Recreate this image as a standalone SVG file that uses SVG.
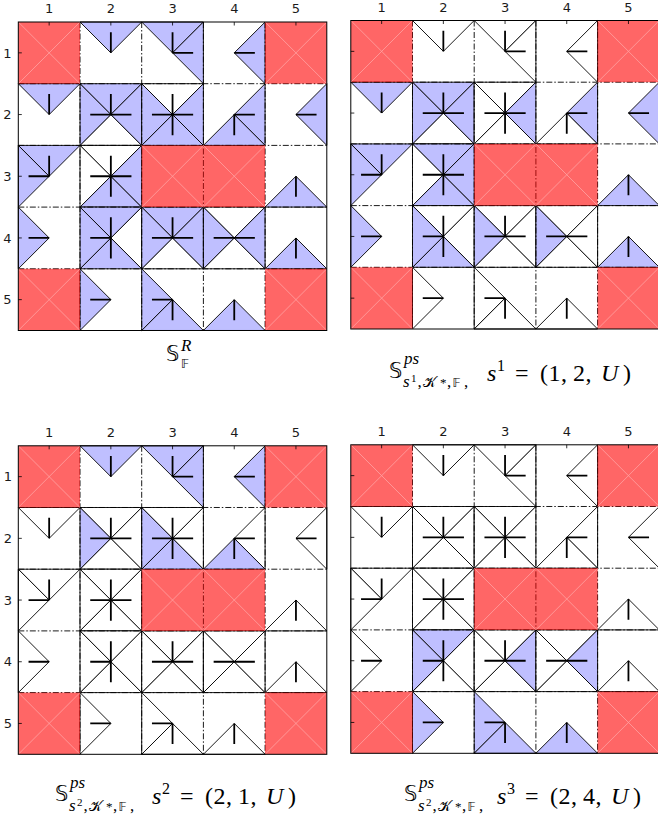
<svg xmlns="http://www.w3.org/2000/svg" xmlns:xlink="http://www.w3.org/1999/xlink" width="658" height="818" viewBox="0 0 658 818">
<style>
.b{fill:#bfbfff;stroke:#000;stroke-width:0.9;stroke-linejoin:miter}
.w{fill:#fff;stroke:#000;stroke-width:0.9}
.a{fill:none;stroke:#000;stroke-width:1.8}
.g{fill:none;stroke:#000;stroke-width:0.9;stroke-dasharray:6 2 1.5 2}
.fr{fill:none;stroke:#000;stroke-width:1}
.tk{fill:none;stroke:#000;stroke-width:0.8}
.lb{font-family:"DejaVu Sans",sans-serif;font-size:13px;fill:#1a1a1a;text-anchor:middle}
.m{font-family:"Liberation Serif",serif;font-size:24px;fill:#000}
.bb{font-family:"DejaVu Sans","DejaVu Serif",sans-serif;fill:#000}
.sc{font-family:"Liberation Serif",serif;font-size:17px;fill:#000}
.it{font-style:italic}
</style>
<defs>
<path id="U" d="M0,0H61.7L30.85,30.85Z"/>
<path id="D" d="M0,61.7H61.7L30.85,30.85Z"/>
<path id="L" d="M0,0V61.7L30.85,30.85Z"/>
<path id="R" d="M61.7,0V61.7L30.85,30.85Z"/>
<g id="red"><rect width="61.7" height="61.7" fill="#ff0000" fill-opacity="0.6"/><path d="M0,0L61.7,61.7M61.7,0L0,61.7" stroke="#ffa3a3" stroke-width="0.8"/></g>
<path id="grid" class="g" d="M61.7,0V308.5M123.4,0V308.5M185.1,0V308.5M246.8,0V308.5M0,61.7H308.5M0,123.4H308.5M0,185.1H308.5M0,246.8H308.5"/>
<g id="reds">
<use href="#red" x="0" y="0"/><use href="#red" x="246.8" y="0"/>
<use href="#red" x="123.4" y="123.4"/><use href="#red" x="185.1" y="123.4"/>
<use href="#red" x="0" y="246.8"/><use href="#red" x="246.8" y="246.8"/>
</g>
<path id="arrows" class="a" d="M92.55,30.85V10.25 M154.25,30.85V10.25M154.25,30.85H174.85 M215.95,30.85H236.55
M30.85,92.55V71.95 M71.95,92.55H113.15M92.55,92.55V71.95 M133.65,92.55H174.85M154.25,71.95V113.15 M215.95,92.55H236.55M215.95,92.55V113.15 M277.65,92.55H298.25
M30.85,154.25V133.65M30.85,154.25H10.25 M71.95,154.25H113.15M92.55,133.65V174.85 M277.65,154.25V174.85
M30.85,215.95H10.25 M92.55,215.95H71.95M92.55,195.35V236.55 M133.65,215.95H174.85M154.25,215.95V195.35 M195.35,215.95H236.55 M277.65,215.95V236.55
M92.55,277.65H71.95 M154.25,277.65H133.65M154.25,277.65V298.25 M215.95,277.65V298.25"/>
<g id="axes">
<rect class="fr" x="0" y="0" width="308.5" height="308.5"/>
<path class="tk" d="M30.85,0V3.5M92.55,0V3.5M154.25,0V3.5M215.95,0V3.5M277.65,0V3.5M0,30.85H3.5M0,92.55H3.5M0,154.25H3.5M0,215.95H3.5M0,277.65H3.5"/>
</g>
</defs>

<g id="panel1" transform="translate(18.3,22)">
<rect width="308.5" height="308.5" fill="#fff"/>
<g id="tri1">
<use href="#U" x="61.7" y="0" class="b"/>
<use href="#U" x="123.4" y="0" class="b"/><use href="#R" x="123.4" y="0" class="b"/>
<use href="#R" x="185.1" y="0" class="b"/>
<use href="#U" x="0" y="61.7" class="b"/>
<use href="#D" x="61.7" y="61.7" class="w"/><use href="#U" x="61.7" y="61.7" class="b"/><use href="#L" x="61.7" y="61.7" class="b"/><use href="#R" x="61.7" y="61.7" class="b"/>
<use href="#U" x="123.4" y="61.7" class="w"/><use href="#D" x="123.4" y="61.7" class="b"/><use href="#L" x="123.4" y="61.7" class="b"/><use href="#R" x="123.4" y="61.7" class="b"/>
<use href="#R" x="185.1" y="61.7" class="b"/><use href="#D" x="185.1" y="61.7" class="b"/>
<use href="#R" x="246.8" y="61.7" class="b"/>
<use href="#U" x="0" y="123.4" class="b"/><use href="#L" x="0" y="123.4" class="b"/>
<use href="#U" x="61.7" y="123.4" class="w"/><use href="#L" x="61.7" y="123.4" class="w"/><use href="#D" x="61.7" y="123.4" class="b"/><use href="#R" x="61.7" y="123.4" class="b"/>
<use href="#D" x="246.8" y="123.4" class="b"/>
<use href="#L" x="0" y="185.1" class="b"/>
<use href="#R" x="61.7" y="185.1" class="w"/><use href="#U" x="61.7" y="185.1" class="b"/><use href="#D" x="61.7" y="185.1" class="b"/><use href="#L" x="61.7" y="185.1" class="b"/>
<use href="#D" x="123.4" y="185.1" class="w"/><use href="#U" x="123.4" y="185.1" class="b"/><use href="#L" x="123.4" y="185.1" class="b"/><use href="#R" x="123.4" y="185.1" class="b"/>
<use href="#U" x="185.1" y="185.1" class="w"/><use href="#D" x="185.1" y="185.1" class="w"/><use href="#L" x="185.1" y="185.1" class="b"/><use href="#R" x="185.1" y="185.1" class="b"/>
<use href="#D" x="246.8" y="185.1" class="b"/>
<use href="#L" x="61.7" y="246.8" class="b"/>
<use href="#L" x="123.4" y="246.8" class="b"/><use href="#D" x="123.4" y="246.8" class="b"/>
<use href="#D" x="185.1" y="246.8" class="b"/>
</g>
<use href="#grid"/><use href="#reds"/><use href="#arrows"/><use href="#axes"/>
</g>

<g id="panel2" transform="translate(350.8,20.5)">
<rect width="308.5" height="308.5" fill="#fff"/>
<g id="tri2">
<use href="#U" x="61.7" y="0" class="w"/>
<use href="#U" x="123.4" y="0" class="w"/><use href="#R" x="123.4" y="0" class="w"/>
<use href="#R" x="185.1" y="0" class="w"/>
<use href="#U" x="0" y="61.7" class="b"/>
<use href="#D" x="61.7" y="61.7" class="w"/><use href="#U" x="61.7" y="61.7" class="b"/><use href="#L" x="61.7" y="61.7" class="b"/><use href="#R" x="61.7" y="61.7" class="b"/>
<use href="#U" x="123.4" y="61.7" class="w"/><use href="#D" x="123.4" y="61.7" class="w"/><use href="#L" x="123.4" y="61.7" class="w"/><use href="#R" x="123.4" y="61.7" class="b"/>
<use href="#D" x="185.1" y="61.7" class="w"/><use href="#R" x="185.1" y="61.7" class="b"/>
<use href="#R" x="246.8" y="61.7" class="b"/>
<use href="#U" x="0" y="123.4" class="b"/><use href="#L" x="0" y="123.4" class="b"/>
<use href="#L" x="61.7" y="123.4" class="w"/><use href="#U" x="61.7" y="123.4" class="b"/><use href="#D" x="61.7" y="123.4" class="b"/><use href="#R" x="61.7" y="123.4" class="b"/>
<use href="#D" x="246.8" y="123.4" class="b"/>
<use href="#L" x="0" y="185.1" class="b"/>
<use href="#U" x="61.7" y="185.1" class="w"/><use href="#R" x="61.7" y="185.1" class="w"/><use href="#D" x="61.7" y="185.1" class="b"/><use href="#L" x="61.7" y="185.1" class="b"/>
<use href="#U" x="123.4" y="185.1" class="w"/><use href="#D" x="123.4" y="185.1" class="w"/><use href="#R" x="123.4" y="185.1" class="w"/><use href="#L" x="123.4" y="185.1" class="b"/>
<use href="#U" x="185.1" y="185.1" class="w"/><use href="#D" x="185.1" y="185.1" class="w"/><use href="#R" x="185.1" y="185.1" class="w"/><use href="#L" x="185.1" y="185.1" class="b"/>
<use href="#D" x="246.8" y="185.1" class="b"/>
<use href="#L" x="61.7" y="246.8" class="w"/>
<use href="#L" x="123.4" y="246.8" class="w"/><use href="#D" x="123.4" y="246.8" class="w"/>
<use href="#D" x="185.1" y="246.8" class="w"/>
</g>
<use href="#grid"/><use href="#reds"/><use href="#arrows"/><use href="#axes"/>
</g>

<g id="panel3" transform="translate(18.3,445.8)">
<rect width="308.5" height="308.5" fill="#fff"/>
<g id="tri3">
<use href="#U" x="61.7" y="0" class="b"/>
<use href="#U" x="123.4" y="0" class="b"/><use href="#R" x="123.4" y="0" class="b"/>
<use href="#R" x="185.1" y="0" class="b"/>
<use href="#U" x="0" y="61.7" class="w"/>
<use href="#D" x="61.7" y="61.7" class="w"/><use href="#U" x="61.7" y="61.7" class="w"/><use href="#R" x="61.7" y="61.7" class="w"/><use href="#L" x="61.7" y="61.7" class="b"/>
<use href="#U" x="123.4" y="61.7" class="w"/><use href="#R" x="123.4" y="61.7" class="w"/><use href="#D" x="123.4" y="61.7" class="b"/><use href="#L" x="123.4" y="61.7" class="b"/>
<use href="#R" x="185.1" y="61.7" class="w"/><use href="#D" x="185.1" y="61.7" class="b"/>
<use href="#R" x="246.8" y="61.7" class="w"/>
<use href="#U" x="0" y="123.4" class="w"/><use href="#L" x="0" y="123.4" class="w"/>
<use href="#U" x="61.7" y="123.4" class="w"/><use href="#L" x="61.7" y="123.4" class="w"/><use href="#D" x="61.7" y="123.4" class="w"/><use href="#R" x="61.7" y="123.4" class="w"/>
<use href="#D" x="246.8" y="123.4" class="w"/>
<use href="#L" x="0" y="185.1" class="w"/>
<use href="#R" x="61.7" y="185.1" class="w"/><use href="#U" x="61.7" y="185.1" class="w"/><use href="#D" x="61.7" y="185.1" class="w"/><use href="#L" x="61.7" y="185.1" class="w"/>
<use href="#D" x="123.4" y="185.1" class="w"/><use href="#U" x="123.4" y="185.1" class="w"/><use href="#L" x="123.4" y="185.1" class="w"/><use href="#R" x="123.4" y="185.1" class="w"/>
<use href="#U" x="185.1" y="185.1" class="w"/><use href="#D" x="185.1" y="185.1" class="w"/><use href="#L" x="185.1" y="185.1" class="w"/><use href="#R" x="185.1" y="185.1" class="w"/>
<use href="#D" x="246.8" y="185.1" class="w"/>
<use href="#L" x="61.7" y="246.8" class="w"/>
<use href="#L" x="123.4" y="246.8" class="w"/><use href="#D" x="123.4" y="246.8" class="w"/>
<use href="#D" x="185.1" y="246.8" class="w"/>
</g>
<use href="#grid"/><use href="#reds"/><use href="#arrows"/><use href="#axes"/>
</g>

<g id="panel4" transform="translate(350.8,444.8)">
<rect width="308.5" height="308.5" fill="#fff"/>
<g id="tri4">
<use href="#U" x="61.7" y="0" class="w"/>
<use href="#U" x="123.4" y="0" class="w"/><use href="#R" x="123.4" y="0" class="w"/>
<use href="#R" x="185.1" y="0" class="w"/>
<use href="#U" x="0" y="61.7" class="w"/>
<use href="#D" x="61.7" y="61.7" class="w"/><use href="#U" x="61.7" y="61.7" class="w"/><use href="#R" x="61.7" y="61.7" class="w"/><use href="#L" x="61.7" y="61.7" class="w"/>
<use href="#U" x="123.4" y="61.7" class="w"/><use href="#R" x="123.4" y="61.7" class="w"/><use href="#D" x="123.4" y="61.7" class="w"/><use href="#L" x="123.4" y="61.7" class="w"/>
<use href="#R" x="185.1" y="61.7" class="w"/><use href="#D" x="185.1" y="61.7" class="w"/>
<use href="#R" x="246.8" y="61.7" class="w"/>
<use href="#U" x="0" y="123.4" class="w"/><use href="#L" x="0" y="123.4" class="w"/>
<use href="#U" x="61.7" y="123.4" class="w"/><use href="#L" x="61.7" y="123.4" class="w"/><use href="#D" x="61.7" y="123.4" class="w"/><use href="#R" x="61.7" y="123.4" class="w"/>
<use href="#D" x="246.8" y="123.4" class="w"/>
<use href="#L" x="0" y="185.1" class="w"/>
<use href="#R" x="61.7" y="185.1" class="w"/><use href="#D" x="61.7" y="185.1" class="w"/><use href="#U" x="61.7" y="185.1" class="b"/><use href="#L" x="61.7" y="185.1" class="b"/>
<use href="#D" x="123.4" y="185.1" class="w"/><use href="#U" x="123.4" y="185.1" class="w"/><use href="#L" x="123.4" y="185.1" class="w"/><use href="#R" x="123.4" y="185.1" class="b"/>
<use href="#U" x="185.1" y="185.1" class="w"/><use href="#D" x="185.1" y="185.1" class="w"/><use href="#L" x="185.1" y="185.1" class="w"/><use href="#R" x="185.1" y="185.1" class="b"/>
<use href="#D" x="246.8" y="185.1" class="w"/>
<use href="#L" x="61.7" y="246.8" class="b"/>
<use href="#L" x="123.4" y="246.8" class="b"/><use href="#D" x="123.4" y="246.8" class="b"/>
<use href="#D" x="185.1" y="246.8" class="b"/>
</g>
<use href="#grid"/><use href="#reds"/><use href="#arrows"/><use href="#axes"/>
</g>

<g id="labels">
<text class="lb" x="49.2" y="13">1</text><text class="lb" x="110.9" y="13">2</text><text class="lb" x="172.6" y="13">3</text><text class="lb" x="234.3" y="13">4</text><text class="lb" x="296" y="13">5</text>
<text class="lb" x="7.5" y="57.5">1</text><text class="lb" x="7.5" y="119.2">2</text><text class="lb" x="7.5" y="180.9">3</text><text class="lb" x="7.5" y="242.6">4</text><text class="lb" x="7.5" y="304.3">5</text>
<text class="lb" x="381.7" y="11.5">1</text><text class="lb" x="443.4" y="11.5">2</text><text class="lb" x="505.1" y="11.5">3</text><text class="lb" x="566.8" y="11.5">4</text><text class="lb" x="628.5" y="11.5">5</text>
<text class="lb" x="49.2" y="437">1</text><text class="lb" x="110.9" y="437">2</text><text class="lb" x="172.6" y="437">3</text><text class="lb" x="234.3" y="437">4</text><text class="lb" x="296" y="437">5</text>
<text class="lb" x="8" y="481.3">1</text><text class="lb" x="8" y="543">2</text><text class="lb" x="8" y="604.7">3</text><text class="lb" x="8" y="666.4">4</text><text class="lb" x="8" y="728.1">5</text>
<text class="lb" x="381.7" y="435.5">1</text><text class="lb" x="443.4" y="435.5">2</text><text class="lb" x="505.1" y="435.5">3</text><text class="lb" x="566.8" y="435.5">4</text><text class="lb" x="628.5" y="435.5">5</text>
</g>

<g id="captions">
<g id="cap1">
<text class="bb" x="166" y="361" font-size="21">𝕊</text>
<text class="sc it" x="181" y="351" font-size="15">R</text>
<text class="bb" x="181" y="368" font-size="12">𝔽</text>
</g>
<g id="cap2">
<text class="bb" x="389" y="378" font-size="21">𝕊</text>
<text class="sc it" x="404" y="364" font-size="16">ps</text>
<text class="sc" y="387"><tspan class="it" x="403">s</tspan><tspan x="411" y="382" font-size="11">1</tspan><tspan x="417.5" y="387">,</tspan><tspan class="bb" x="423" font-size="14">𝒦</tspan><tspan x="440" font-size="13">*</tspan><tspan x="447">,</tspan><tspan class="bb" x="452.5" font-size="12">𝔽</tspan><tspan x="464">,</tspan></text>
<text class="m" y="381"><tspan class="it" x="487">s</tspan><tspan x="497" y="371" font-size="16">1</tspan><tspan x="515" y="381">=</tspan><tspan x="540">(</tspan><tspan x="548.5">1</tspan><tspan x="561">,</tspan><tspan x="573">2</tspan><tspan x="585.5">,</tspan><tspan class="it" x="601">U</tspan><tspan x="623">)</tspan></text>
</g>
<g id="cap3">
<text class="bb" x="55" y="801" font-size="21">𝕊</text>
<text class="sc it" x="70" y="788" font-size="16">ps</text>
<text class="sc" y="811"><tspan class="it" x="69">s</tspan><tspan x="77" y="806" font-size="11">2</tspan><tspan x="83.5" y="811">,</tspan><tspan class="bb" x="89" font-size="14">𝒦</tspan><tspan x="106" font-size="13">*</tspan><tspan x="113">,</tspan><tspan class="bb" x="118.5" font-size="12">𝔽</tspan><tspan x="130">,</tspan></text>
<text class="m" y="804"><tspan class="it" x="152">s</tspan><tspan x="162" y="794" font-size="16">2</tspan><tspan x="180" y="804">=</tspan><tspan x="205">(</tspan><tspan x="213.5">2</tspan><tspan x="226">,</tspan><tspan x="238">1</tspan><tspan x="250.5">,</tspan><tspan class="it" x="266">U</tspan><tspan x="288">)</tspan></text>
</g>
<g id="cap4">
<text class="bb" x="404" y="801" font-size="21">𝕊</text>
<text class="sc it" x="419" y="788" font-size="16">ps</text>
<text class="sc" y="811"><tspan class="it" x="418">s</tspan><tspan x="426" y="806" font-size="11">2</tspan><tspan x="432.5" y="811">,</tspan><tspan class="bb" x="438" font-size="14">𝒦</tspan><tspan x="455" font-size="13">*</tspan><tspan x="462">,</tspan><tspan class="bb" x="467.5" font-size="12">𝔽</tspan><tspan x="479">,</tspan></text>
<text class="m" y="804"><tspan class="it" x="497">s</tspan><tspan x="507" y="794" font-size="16">3</tspan><tspan x="525" y="804">=</tspan><tspan x="550">(</tspan><tspan x="558.5">2</tspan><tspan x="571">,</tspan><tspan x="583">4</tspan><tspan x="595.5">,</tspan><tspan class="it" x="611">U</tspan><tspan x="633">)</tspan></text>
</g>
</g>
</svg>
